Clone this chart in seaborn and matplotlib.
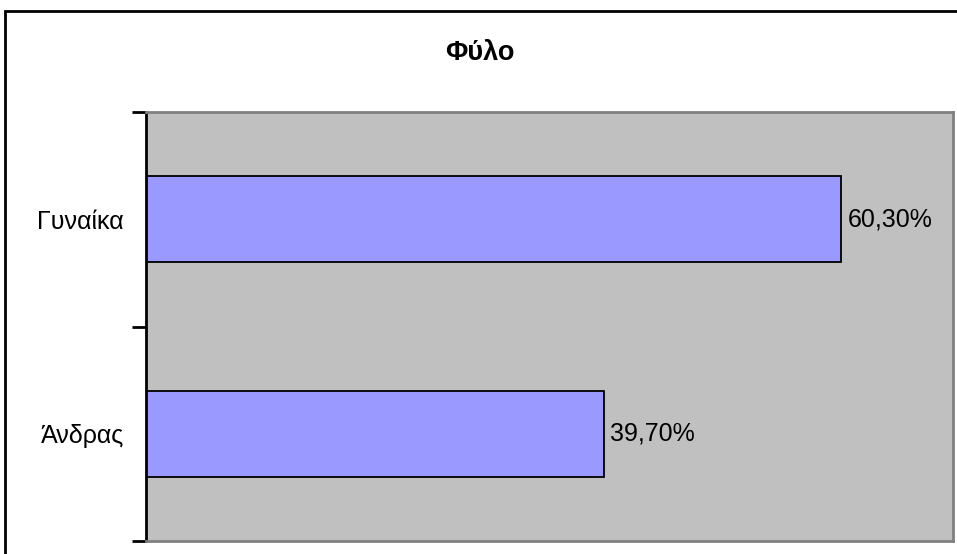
import matplotlib
matplotlib.use("Agg")
import matplotlib.pyplot as plt
import seaborn as sns
import pandas as pd
from matplotlib.patches import Rectangle
from matplotlib.ticker import FixedLocator

categories = ["Γυναίκα", "Άνδρας"]
values = [60.30, 39.70]
value_labels = ["60,30%", "39,70%"]
title = "Φύλο"

sns.set_theme(style="white")
plt.rcParams['font.family'] = ['Liberation Sans', 'DejaVu Sans']

fig = plt.figure(figsize=(9.57, 5.54), dpi=100)
ax = fig.add_axes([146/957, 1-541/554, (953-146)/957, (541-112)/554])
ax.set_facecolor("#C0C0C0")

df = pd.DataFrame({"cat": categories, "val": values})
sns.barplot(data=df, y="cat", x="val", orient="h", ax=ax, color="#9999FF",
            saturation=1, width=0.4, edgecolor="black", linewidth=1.3)

ax.set_xlim(0, 70)
ax.set_ylim(1.5, -0.5)
ax.set_xlabel("")
ax.set_ylabel("")
ax.set_xticks([])
ax.yaxis.set_minor_locator(FixedLocator([-0.5, 0.5, 1.5]))
ax.tick_params(axis="y", which="major", length=0, pad=16, labelsize=18, labelcolor="black")
ax.tick_params(axis="y", which="minor", length=10, width=2, color="black", left=True)

for i, (v, lab) in enumerate(zip(values, value_labels)):
    ax.text(v + 0.55, i, lab, va="center", ha="left", fontsize=18, color="black")

for side in ["top", "right", "bottom"]:
    ax.spines[side].set_visible(True)
    ax.spines[side].set_color("#808080")
    ax.spines[side].set_linewidth(2)
ax.spines["left"].set_color("black")
ax.spines["left"].set_linewidth(2)

fig.text(480/957, 1-53/554, title, ha="center", va="center", fontsize=19.5,
         fontweight="bold", color="black")

fig.patches.append(Rectangle((5/957, -0.2), 1.2, 1-11/554+0.2, transform=fig.transFigure,
                             fill=False, edgecolor="black", linewidth=2))

fig.savefig("out.png", dpi=100)
